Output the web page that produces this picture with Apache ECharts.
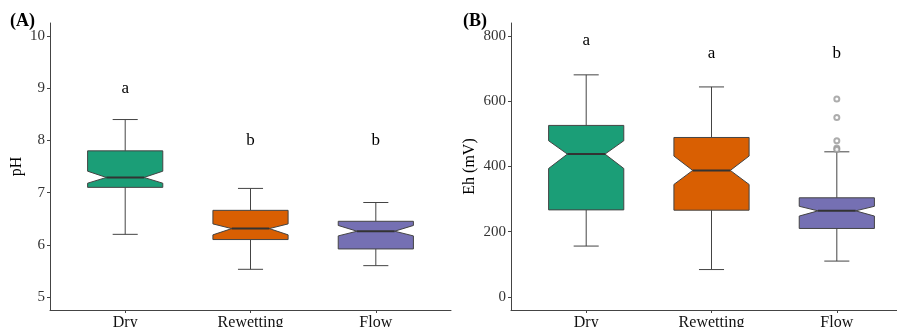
<!DOCTYPE html>
<html>
<head>
<meta charset="utf-8">
<script src="https://cdn.jsdelivr.net/npm/echarts@6/dist/echarts.min.js"></script>
<style>
html,body{margin:0;padding:0;background:#fff;}
#chart{width:897px;height:327px;}
</style>
</head>
<body>
<div id="chart"></div>
<script>
// ---------- data ----------
const categories = ['Dry', 'Rewetting', 'Flow'];

// Panel A: pH
const phLow       = [6.20, 5.53, 5.60];
const phQ1        = [7.10, 6.10, 5.92];
const phNotchLow  = [7.18, 6.19, 6.17];
const phMedian    = [7.29, 6.31, 6.26];
const phNotchHigh = [7.41, 6.40, 6.37];
const phQ3        = [7.80, 6.66, 6.45];
const phHigh      = [8.40, 7.08, 6.81];
const phTicks     = [5, 6, 7, 8, 9, 10];
const phLetters   = ['a', 'b', 'b'];
const phLetterY   = [9.0, 8.0, 8.0];

// Panel B: Eh (mV)
const ehLow       = [156, 84, 110];
const ehQ1        = [267, 266, 210];
const ehNotchLow  = [394, 345, 248];
const ehMedian    = [438, 388, 264];
const ehNotchHigh = [479, 432, 278];
const ehQ3        = [526, 489, 304];
const ehHigh      = [681, 644, 445];
const ehOutlierCat = [3, 3, 3, 3, 3];
const ehOutliers  = [607, 550, 479, 457, 452];
const ehTicks     = [0, 200, 400, 600, 800];
const ehLetters   = ['a', 'a', 'b'];
const ehLetterY   = [787, 746, 746];

// ---------- style ----------
const colors = ['#1b9e77', '#d95f02', '#7570b3'];
const FONT = "'Liberation Serif', 'DejaVu Serif', serif";
const catPos = [1, 2, 3];

function boxData(low, q1, nl, med, nh, q3, high) {
  return categories.map((c, i) => [catPos[i], low[i], q1[i], nl[i], med[i], nh[i], q3[i], high[i]]);
}

function renderBox(params, api) {
  const x = api.value(0);
  const low = api.coord([x, api.value(1)]);
  const q1 = api.coord([x, api.value(2)]);
  const nl = api.coord([x, api.value(3)]);
  const med = api.coord([x, api.value(4)]);
  const nh = api.coord([x, api.value(5)]);
  const q3 = api.coord([x, api.value(6)]);
  const high = api.coord([x, api.value(7)]);
  const cx = med[0];
  const hw = api.size([0.3, 0])[0];
  const cap = api.size([0.1, 0])[0];
  const inset = hw * 0.5;
  const xl = cx - hw, xr = cx + hw;
  const lineStyle = {stroke: '#444', lineWidth: 1};
  return {
    type: 'group',
    children: [
      {type: 'line', shape: {x1: cx, y1: q3[1], x2: cx, y2: high[1]}, style: lineStyle},
      {type: 'line', shape: {x1: cx, y1: q1[1], x2: cx, y2: low[1]}, style: lineStyle},
      {type: 'line', shape: {x1: cx - cap, y1: high[1], x2: cx + cap, y2: high[1]}, style: lineStyle},
      {type: 'line', shape: {x1: cx - cap, y1: low[1], x2: cx + cap, y2: low[1]}, style: lineStyle},
      {type: 'polygon', shape: {points: [
        [xl, q3[1]], [xr, q3[1]], [xr, nh[1]], [xr - inset, med[1]], [xr, nl[1]],
        [xr, q1[1]], [xl, q1[1]], [xl, nl[1]], [xl + inset, med[1]], [xl, nh[1]]
      ]}, style: {fill: colors[params.dataIndex], stroke: '#444', lineWidth: 1}},
      {type: 'line', shape: {x1: xl + inset, y1: med[1], x2: xr - inset, y2: med[1]}, style: {stroke: '#333', lineWidth: 2}}
    ]
  };
}

function renderLetter(params, api) {
  const p = api.coord([api.value(0), api.value(1)]);
  return {
    type: 'text',
    x: p[0], y: p[1],
    style: {
      text: params.seriesIndex === 1 ? phLetters[params.dataIndex] : ehLetters[params.dataIndex],
      font: '17px ' + FONT,
      fill: '#000',
      align: 'center', verticalAlign: 'middle',
      textAlign: 'center', textVerticalAlign: 'middle'
    }
  };
}

function xAxisCfg(gridIndex) {
  return {
    gridIndex: gridIndex, type: 'value', min: 0.4, max: 3.6,
    splitLine: {show: false},
    axisLine: {show: true, onZero: false, lineStyle: {color: '#444', width: 1}},
    axisTick: {show: true, length: 3, customValues: catPos, lineStyle: {color: '#444'}},
    axisLabel: {
      customValues: catPos, margin: 5,
      formatter: v => categories[Math.round(v) - 1] || '',
      fontFamily: FONT, fontSize: 16, color: '#111'
    }
  };
}

function yAxisCfg(gridIndex, min, max, ticks, name, gap) {
  return {
    gridIndex: gridIndex, type: 'value', min: min, max: max,
    name: name, nameLocation: 'middle', nameGap: gap, nameRotate: 90,
    nameTextStyle: {fontFamily: FONT, fontSize: 16, color: '#000'},
    splitLine: {show: false},
    axisLine: {show: true, onZero: false, lineStyle: {color: '#444', width: 1}},
    axisTick: {show: true, length: 3, customValues: ticks, lineStyle: {color: '#444'}},
    axisLabel: {customValues: ticks, margin: 5, fontFamily: FONT, fontSize: 15, color: '#333'}
  };
}

const chart = echarts.init(document.getElementById('chart'), null, {renderer: 'canvas'});
chart.setOption({
  animation: false,
  backgroundColor: '#fff',
  grid: [
    {left: 50, top: 23, width: 401, bottom: 17, containLabel: false, outerBoundsMode: 'none'},
    {left: 511, top: 23, width: 401, bottom: 17, containLabel: false, outerBoundsMode: 'none'}
  ],
  xAxis: [xAxisCfg(0), xAxisCfg(1)],
  yAxis: [
    yAxisCfg(0, 4.75, 10.25, phTicks, 'pH', 25),
    yAxisCfg(1, -40, 840, ehTicks, 'Eh (mV)', 33)
  ],
  graphic: [
    {type: 'text', left: 10, top: 12, style: {text: '(A)', font: 'bold 18px ' + FONT, fill: '#000'}},
    {type: 'text', left: 463, top: 12, style: {text: '(B)', font: 'bold 18px ' + FONT, fill: '#000'}}
  ],
  series: [
    {type: 'custom', xAxisIndex: 0, yAxisIndex: 0, renderItem: renderBox,
     encode: {x: 0, y: [1, 2, 3, 4, 5, 6, 7]},
     data: boxData(phLow, phQ1, phNotchLow, phMedian, phNotchHigh, phQ3, phHigh)},
    {type: 'custom', xAxisIndex: 0, yAxisIndex: 0, renderItem: renderLetter,
     data: categories.map((c, i) => [catPos[i], phLetterY[i]])},
    {type: 'custom', xAxisIndex: 1, yAxisIndex: 1, renderItem: renderBox,
     encode: {x: 0, y: [1, 2, 3, 4, 5, 6, 7]},
     data: boxData(ehLow, ehQ1, ehNotchLow, ehMedian, ehNotchHigh, ehQ3, ehHigh)},
    {type: 'custom', xAxisIndex: 1, yAxisIndex: 1, renderItem: renderLetter,
     data: categories.map((c, i) => [catPos[i], ehLetterY[i]])},
    {type: 'scatter', xAxisIndex: 1, yAxisIndex: 1, symbol: 'emptyCircle', symbolSize: 5,
     itemStyle: {color: '#999', borderColor: '#999', borderWidth: 0.8},
     data: ehOutliers.map((v, i) => [ehOutlierCat[i], v])}
  ]
});
</script>
</body>
</html>
